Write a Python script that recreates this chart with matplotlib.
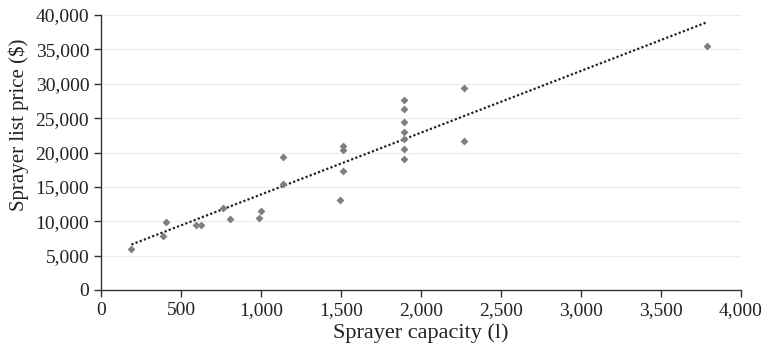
import matplotlib
matplotlib.use("Agg")
import matplotlib.pyplot as plt
import numpy as np
from matplotlib.ticker import FuncFormatter, MultipleLocator

capacity_l = [190, 385, 405, 595, 625, 760, 805, 990, 1000, 1135, 1135,
              1495, 1515, 1515, 1515,
              1893, 1893, 1893, 1893, 1893, 1893, 1893,
              2270, 2270, 3785]
price_usd = [6000, 7900, 9900, 9500, 9500, 12000, 10300, 10500, 11500, 19400, 15400,
             13100, 21000, 20300, 17300,
             27600, 26300, 24400, 23000, 22000, 20500, 19000,
             29400, 21700, 35500]

x_label = "Sprayer capacity (l)"
y_label = "Sprayer list price ($)"

plt.rcParams['font.family'] = ['Liberation Serif', 'DejaVu Serif']

fig = plt.figure(figsize=(7.65, 3.5), dpi=100)
ax = fig.add_axes([101/765, 60/350, 640/765, 275/350])

x = np.array(capacity_l, dtype=float)
y = np.array(price_usd, dtype=float)
ax.scatter(x, y, marker='D', s=16, color='#7f7f7f', zorder=3, linewidths=0)

m, b = np.polyfit(x, y, 1)
xs = np.array([x.min(), x.max()])
ax.plot(xs, m*xs + b, linestyle=(0, (1, 1)), color='#222222', linewidth=1.6, zorder=2)

ax.set_xlim(0, 4000)
ax.set_ylim(0, 40000)
ax.xaxis.set_major_locator(MultipleLocator(500))
ax.yaxis.set_major_locator(MultipleLocator(5000))
fmt = FuncFormatter(lambda v, p: f"{int(v):,}")
ax.xaxis.set_major_formatter(fmt)
ax.yaxis.set_major_formatter(fmt)
ax.grid(axis='y', color='#ececec', linewidth=0.8, zorder=0)
ax.set_axisbelow(True)
for s in ['top', 'right']:
    ax.spines[s].set_visible(False)
for s in ['left', 'bottom']:
    ax.spines[s].set_color('#333333')
    ax.spines[s].set_linewidth(1.0)
ax.tick_params(axis='both', direction='out', length=5, width=1, color='#333333',
               labelsize=14, labelcolor='#222222')
ax.set_xlabel(x_label, fontsize=16, color='#222222', labelpad=3)
ax.set_ylabel(y_label, fontsize=15, color='#222222')
ax.yaxis.set_label_coords(-0.113, 0.6)

fig.savefig("out.png", dpi=100)
